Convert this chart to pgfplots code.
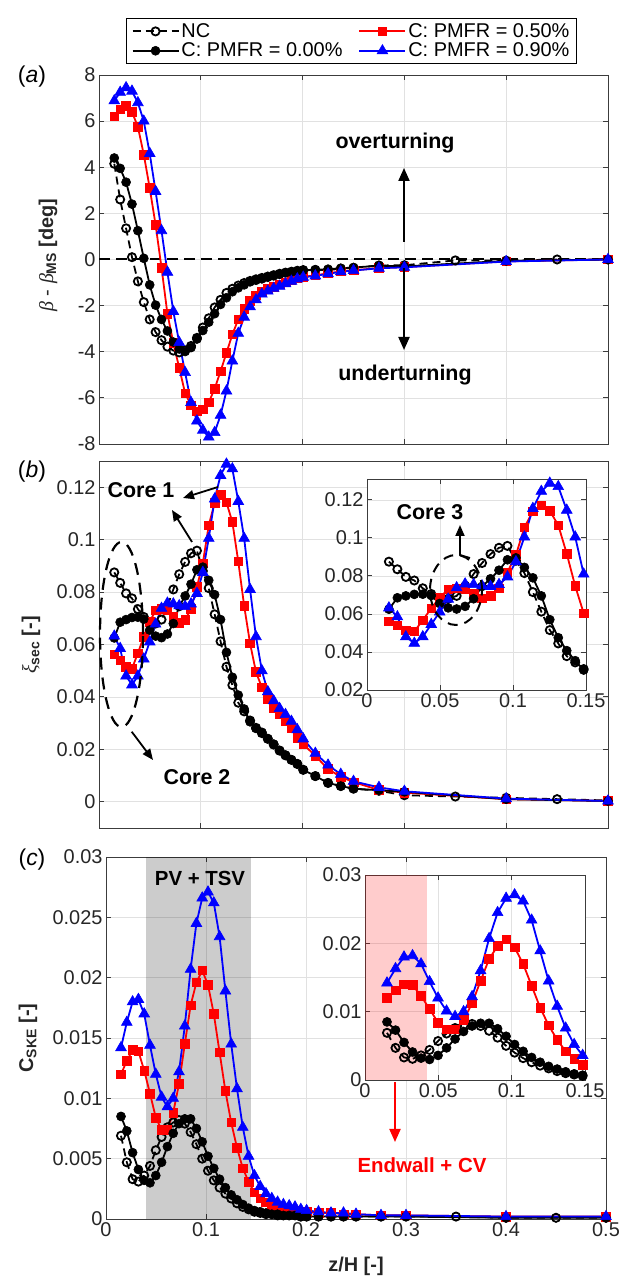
\documentclass[border=0pt]{standalone}
\usepackage{fontspec}
\setmainfont{Liberation Sans}
\newfontfamily\grkfont{Liberation Serif}
\usepackage{pgfplots}
\pgfplotsset{compat=1.18}
\usepackage{pgfplotstable}
\usetikzlibrary{arrows.meta}

\definecolor{axgray}{RGB}{60,60,60}
\definecolor{lblgray}{RGB}{38,38,38}
\definecolor{gridgray}{RGB}{225,225,225}

% columns: z, a = beta-beta_MS [deg], b = xi_sec, c = C_SKE
\pgfplotstableread{
z a b c
0.0150 4.15 0.0875 0.0069
0.0208 2.60 0.0835 0.0047
0.0266 1.35 0.0795 0.0033
0.0324 0.10 0.0776 0.0031
0.0382 -0.95 0.0735 0.0036
0.0440 -1.85 0.0705 0.0044
0.0498 -2.60 0.0680 0.0057
0.0556 -3.15 0.0680 0.0068
0.0614 -3.50 0.0695 0.0076
0.0672 -3.78 0.0745 0.0080
0.0730 -3.95 0.0810 0.0082
0.0788 -4.03 0.0868 0.0079
0.0846 -3.94 0.0915 0.0072
0.0904 -3.75 0.0948 0.0062
0.0962 -3.40 0.0958 0.0050
0.1020 -2.95 0.0880 0.0040
0.1078 -2.55 0.0815 0.0032
0.1136 -2.08 0.0715 0.0026
0.1194 -1.75 0.0612 0.0021
0.1252 -1.45 0.0515 0.0017
0.1310 -1.27 0.0445 0.0013
0.1368 -1.13 0.0378 0.0010
0.1426 -1.02 0.0345 0.0008
0.1484 -0.93 0.0310 0.0006
0.1542 -0.86 0.0282 0.0005
0.1600 -0.80 0.0262 0.0004
0.1658 -0.74 0.0240 0.0004
0.1716 -0.68 0.0218 0.0003
0.1774 -0.62 0.0195 0.0003
0.1832 -0.57 0.0177 0.0003
0.1890 -0.53 0.0160 0.0003
0.1948 -0.49 0.0144 0.0002
0.2006 -0.46 0.0122 0.0002
0.2125 -0.45 0.0098 0.0002
0.2250 -0.46 0.0072 0.0002
0.2375 -0.40 0.0060 0.0002
0.2500 -0.36 0.0050 0.0002
0.2750 -0.26 0.0042 0.0002
0.3000 -0.25 0.0025 0.0002
0.3500 -0.04 0.0020 0.0002
0.4000 -0.05 0.0015 0.0001
0.4500 0.00 0.0010 0.0001
0.5000 0.00 0.0005 0.0001
}\tabNC

\pgfplotstableread{
z a b c
0.0150 4.40 0.0625 0.0085
0.0208 3.95 0.0685 0.0073
0.0266 3.35 0.0695 0.0055
0.0324 2.40 0.0703 0.0041
0.0382 1.25 0.0704 0.0032
0.0440 0.05 0.0697 0.0030
0.0498 -1.10 0.0655 0.0036
0.0556 -1.98 0.0632 0.0047
0.0614 -2.60 0.0626 0.0060
0.0672 -3.10 0.0640 0.0071
0.0730 -3.58 0.0680 0.0079
0.0788 -3.88 0.0745 0.0083
0.0846 -3.99 0.0785 0.0083
0.0904 -3.82 0.0830 0.0075
0.0962 -3.45 0.0885 0.0064
0.1020 -3.08 0.0895 0.0052
0.1078 -2.72 0.0845 0.0042
0.1136 -2.35 0.0790 0.0033
0.1194 -1.95 0.0695 0.0026
0.1252 -1.66 0.0570 0.0020
0.1310 -1.40 0.0475 0.0016
0.1368 -1.23 0.0407 0.0012
0.1426 -1.10 0.0354 0.0009
0.1484 -0.97 0.0305 0.0007
0.1542 -0.90 0.0280 0.0006
0.1600 -0.84 0.0265 0.0005
0.1658 -0.77 0.0241 0.0004
0.1716 -0.71 0.0220 0.0004
0.1774 -0.64 0.0196 0.0003
0.1832 -0.58 0.0178 0.0003
0.1890 -0.55 0.0160 0.0003
0.1948 -0.50 0.0145 0.0002
0.2006 -0.47 0.0122 0.0002
0.2125 -0.45 0.0098 0.0002
0.2250 -0.42 0.0072 0.0002
0.2375 -0.38 0.0060 0.0002
0.2500 -0.35 0.0050 0.0002
0.2750 -0.27 0.0044 0.0002
0.3000 -0.30 0.0038 0.0002
0.4000 -0.06 0.0010 0.0001
0.5000 0.00 0.0003 0.0001
}\tabCzero

\pgfplotstableread{
z a b c
0.0150 6.20 0.0562 0.0120
0.0208 6.52 0.0540 0.0131
0.0266 6.66 0.0515 0.0140
0.0324 6.40 0.0508 0.0139
0.0382 5.75 0.0567 0.0123
0.0440 4.55 0.0630 0.0104
0.0498 3.10 0.0686 0.0084
0.0556 1.50 0.0730 0.0074
0.0614 -0.35 0.0735 0.0074
0.0672 -2.35 0.0731 0.0088
0.0730 -3.62 0.0705 0.0112
0.0788 -4.70 0.0682 0.0145
0.0846 -5.80 0.0695 0.0177
0.0904 -6.33 0.0735 0.0196
0.0962 -6.58 0.0820 0.0206
0.1020 -6.50 0.0910 0.0194
0.1078 -6.20 0.1055 0.0170
0.1136 -5.60 0.1140 0.0138
0.1194 -4.85 0.1172 0.0106
0.1252 -4.05 0.1142 0.0080
0.1310 -3.25 0.1067 0.0059
0.1368 -2.60 0.0917 0.0042
0.1426 -2.13 0.0747 0.0031
0.1484 -1.80 0.0604 0.0022
0.1542 -1.55 0.0495 0.0017
0.1600 -1.40 0.0436 0.0014
0.1658 -1.28 0.0392 0.0012
0.1716 -1.18 0.0358 0.0010
0.1774 -1.08 0.0333 0.0009
0.1832 -0.99 0.0310 0.0008
0.1890 -0.90 0.0280 0.0007
0.1948 -0.82 0.0243 0.0006
0.2006 -0.75 0.0220 0.0006
0.2125 -0.69 0.0175 0.0005
0.2250 -0.60 0.0125 0.0005
0.2375 -0.52 0.0095 0.0004
0.2500 -0.47 0.0075 0.0004
0.2750 -0.37 0.0045 0.0003
0.3000 -0.33 0.0035 0.0003
0.4000 -0.08 0.0010 0.0002
0.5000 0.00 0.0003 0.0002
}\tabCfifty

\pgfplotstableread{
z a b c
0.0150 6.88 0.0632 0.0142
0.0208 7.25 0.0585 0.0163
0.0266 7.45 0.0480 0.0180
0.0324 7.30 0.0446 0.0182
0.0382 6.80 0.0480 0.0170
0.0440 6.00 0.0545 0.0144
0.0498 4.60 0.0610 0.0120
0.0556 2.95 0.0678 0.0101
0.0614 1.25 0.0738 0.0093
0.0672 -0.55 0.0758 0.0100
0.0730 -2.25 0.0755 0.0122
0.0788 -3.60 0.0748 0.0160
0.0846 -4.90 0.0745 0.0207
0.0904 -6.20 0.0755 0.0245
0.0962 -7.00 0.0795 0.0266
0.1020 -7.40 0.0875 0.0271
0.1078 -7.70 0.1005 0.0262
0.1136 -7.50 0.1155 0.0234
0.1194 -6.75 0.1245 0.0189
0.1252 -5.70 0.1288 0.0145
0.1310 -4.40 0.1270 0.0108
0.1368 -3.20 0.1146 0.0076
0.1426 -2.50 0.1005 0.0052
0.1484 -2.05 0.0810 0.0036
0.1542 -1.75 0.0630 0.0027
0.1600 -1.50 0.0500 0.0021
0.1658 -1.37 0.0420 0.0017
0.1716 -1.25 0.0385 0.0014
0.1774 -1.16 0.0356 0.0012
0.1832 -1.05 0.0333 0.0011
0.1890 -0.94 0.0307 0.0010
0.1948 -0.84 0.0275 0.0008
0.2006 -0.77 0.0240 0.0007
0.2125 -0.71 0.0185 0.0006
0.2250 -0.62 0.0140 0.0005
0.2375 -0.53 0.0105 0.0005
0.2500 -0.48 0.0078 0.0004
0.2750 -0.38 0.0055 0.0003
0.3000 -0.34 0.0040 0.0003
0.4000 -0.09 0.0012 0.0002
0.5000 0.00 0.0003 0.0002
}\tabCninety

\pgfplotsset{
  base/.style={
    scale only axis,
    axis line style={axgray, line width=0.9bp},
    tick style={axgray, line width=0.9bp},
    tick align=inside,
    major tick length=5bp,
    grid=major,
    major grid style={gridgray, line width=0.7bp},
    tick label style={font=\fontsize{20}{20}\selectfont, text=lblgray},
    /pgf/number format/assume math mode=true,
    scaled ticks=false,
    yticklabel style={/pgf/number format/fixed, /pgf/number format/precision=3},
    xticklabel style={/pgf/number format/fixed, /pgf/number format/precision=3},
  },
  sNC/.style={black, line width=1.8bp, dash pattern=on 8bp off 5bp, mark=o, mark size=4.1bp, mark options={solid, line width=1.8bp}},
  sCzero/.style={black, line width=1.8bp, mark=*, mark size=4.5bp, mark options={solid, line width=0.6bp}},
  sCfifty/.style={red, line width=1.8bp, mark=square*, mark size=4.3bp, mark options={solid, line width=0.6bp}},
  sCninety/.style={blue, line width=1.8bp, mark=triangle*, mark size=6.2bp, mark options={solid, line width=0.6bp}},
}

\begin{document}
\begin{tikzpicture}[x=1bp,y=1bp]
\path[use as bounding box] (0,0) rectangle (635,1283);

% ---------------- panel (a)
\begin{axis}[base, at={(99bp,839bp)}, anchor=south west, width=509bp, height=369bp,
  xmin=0, xmax=0.5, ymin=-8, ymax=8,
  xtick={0,0.1,0.2,0.3,0.4,0.5}, xticklabels={},
  ytick={-8,-6,-4,-2,0,2,4,6,8},
  legend columns=2,
  legend style={at={(0.939,1.0298)}, anchor=south east, draw=black, line width=1bp,
    font=\fontsize{20}{24}\selectfont, inner xsep=5bp, inner ysep=3bp,
    /tikz/every even column/.append style={column sep=14bp}, cells={anchor=west}},
  legend image code/.code={\draw[mark repeat=2,mark phase=2] plot coordinates {(0bp,0bp) (23bp,0bp) (46bp,0bp)};},
]
\draw[black, line width=2bp, dash pattern=on 11bp off 6bp] (axis cs:0,0) -- (axis cs:0.5,0);
\addplot[sNC] table[x=z,y=a]{\tabNC}; \addlegendentry{NC}
\addplot[sCfifty] table[x=z,y=a]{\tabCfifty}; \addlegendentry{C: PMFR = 0.50\%}
\addplot[sCzero] table[x=z,y=a]{\tabCzero}; \addlegendentry{C: PMFR = 0.00\%}
\addplot[sCninety] table[x=z,y=a]{\tabCninety}; \addlegendentry{C: PMFR = 0.90\%}
\end{axis}

% ---------------- panel (b)
\begin{axis}[base, at={(99bp,455bp)}, anchor=south west, width=509bp, height=367bp,
  xmin=0, xmax=0.5, ymin=-0.01, ymax=0.13,
  xtick={0,0.1,0.2,0.3,0.4,0.5}, xticklabels={},
  ytick={0,0.02,0.04,0.06,0.08,0.1,0.12},
]
\addplot[sNC] table[x=z,y=b]{\tabNC};
\addplot[sCfifty] table[x=z,y=b]{\tabCfifty};
\addplot[sCzero] table[x=z,y=b]{\tabCzero};
\addplot[sCninety] table[x=z,y=b]{\tabCninety};
\end{axis}

% inset (b)
\begin{axis}[base, at={(367bp,593bp)}, anchor=south west, width=219bp, height=211bp,
  axis background/.style={fill=white},
  xmin=0, xmax=0.15, ymin=0.02, ymax=0.131,
  xtick={0,0.05,0.1,0.15}, ytick={0.02,0.04,0.06,0.08,0.1,0.12},
  restrict x to domain=0:0.152,
]
\addplot[sNC] table[x=z,y=b]{\tabNC};
\addplot[sCfifty] table[x=z,y=b]{\tabCfifty};
\addplot[sCzero] table[x=z,y=b]{\tabCzero};
\addplot[sCninety] table[x=z,y=b]{\tabCninety};
\end{axis}

% ---------------- panel (c)
\begin{axis}[base, at={(106bp,64bp)}, anchor=south west, width=500bp, height=362bp,
  xmin=0, xmax=0.5, ymin=0, ymax=0.03,
  xtick={0,0.1,0.2,0.3,0.4,0.5},
  ytick={0,0.005,0.01,0.015,0.02,0.025,0.03},
]
\fill[black, opacity=0.2] (axis cs:0.04,0) rectangle (axis cs:0.145,0.03);
\addplot[sNC] table[x=z,y=c]{\tabNC};
\addplot[sCfifty] table[x=z,y=c]{\tabCfifty};
\addplot[sCzero] table[x=z,y=c]{\tabCzero};
\addplot[sCninety] table[x=z,y=c]{\tabCninety};
\end{axis}

% inset (c)
\begin{axis}[base, at={(365bp,203bp)}, anchor=south west, width=220bp, height=205bp,
  axis background/.style={fill=white},
  xmin=0, xmax=0.15, ymin=0, ymax=0.03,
  xtick={0,0.05,0.1,0.15}, ytick={0,0.01,0.02,0.03},
  restrict x to domain=0:0.152,
]
\fill[red, opacity=0.2] (axis cs:0,0) rectangle (axis cs:0.042,0.03);
\addplot[sNC] table[x=z,y=c]{\tabNC};
\addplot[sCfifty] table[x=z,y=c]{\tabCfifty};
\addplot[sCzero] table[x=z,y=c]{\tabCzero};
\addplot[sCninety] table[x=z,y=c]{\tabCninety};
\end{axis}

% ---------------- labels
\node[font=\fontsize{23}{23}\selectfont] at (32,1206) {(\textit{a})};
\node[font=\fontsize{23}{23}\selectfont] at (32,811) {(\textit{b})};
\node[font=\fontsize{23}{23}\selectfont] at (32,423) {(\textit{c})};

\node[rotate=90, font=\fontsize{20}{20}\selectfont, text=lblgray] at (48,1028)
  {{\grkfont\itshape β} - {\grkfont\itshape β}\textsubscript{\bfseries MS} \textbf{[deg]}};
\node[rotate=90, font=\fontsize{20}{20}\selectfont, text=lblgray] at (31,638)
  {{\grkfont\itshape ξ}\textsubscript{\bfseries sec} \textbf{[-]}};
\node[rotate=90, font=\fontsize{20}{20}\selectfont, text=lblgray] at (28,245)
  {\textbf{C\textsubscript{SKE} [-]}};
\node[font=\bfseries\fontsize{20}{20}\selectfont, text=lblgray] at (356,17) {z/H [-]};

% ---------------- annotations (a)
\node[font=\bfseries\fontsize{21.5}{22}\selectfont] at (395,1140) {overturning};
\node[font=\bfseries\fontsize{21.5}{22}\selectfont] at (405,908) {underturning};
\draw[-{Triangle[width=11bp,length=13bp]}, line width=2bp] (404,1041) -- (404,1115);
\draw[-{Triangle[width=11bp,length=13bp]}, line width=2bp] (404,1015) -- (404,933);

% ---------------- annotations (b)
\node[font=\bfseries\fontsize{21.5}{22}\selectfont] at (141,793) {Core 1};
\draw[-{Triangle[width=9bp,length=11bp]}, line width=1.8bp] (218,796) -- (183,785);
\draw[-{Triangle[width=9bp,length=11bp]}, line width=1.8bp] (192,741) -- (172,773);
\draw[line width=2.2bp, dash pattern=on 12bp off 8bp] (121.5,648.5) ellipse [x radius=21.5, y radius=92.5];
\draw[-{Triangle[width=9bp,length=11bp]}, line width=1.8bp] (131.7,551.3) -- (153,523);
\node[font=\bfseries\fontsize{21.5}{22}\selectfont] at (197,506) {Core 2};
\node[font=\bfseries\fontsize{21.5}{22}\selectfont] at (430,771) {Core 3};
\draw[line width=2bp, dash pattern=on 10bp off 7bp] (456,693) ellipse [x radius=26, y radius=35];
\draw[-{Triangle[width=9bp,length=11bp]}, line width=1.8bp] (470,725) -- (460,728) -- (460,758);

% ---------------- annotations (c)
\node[font=\bfseries\fontsize{20.5}{21}\selectfont] at (200,405) {PV + TSV};
\draw[red, -{Triangle[width=11bp,length=13bp]}, line width=2bp] (395,201) -- (395,141);
\node[red, font=\bfseries\fontsize{20.5}{21}\selectfont] at (422,118) {Endwall + CV};
\end{tikzpicture}
\end{document}
